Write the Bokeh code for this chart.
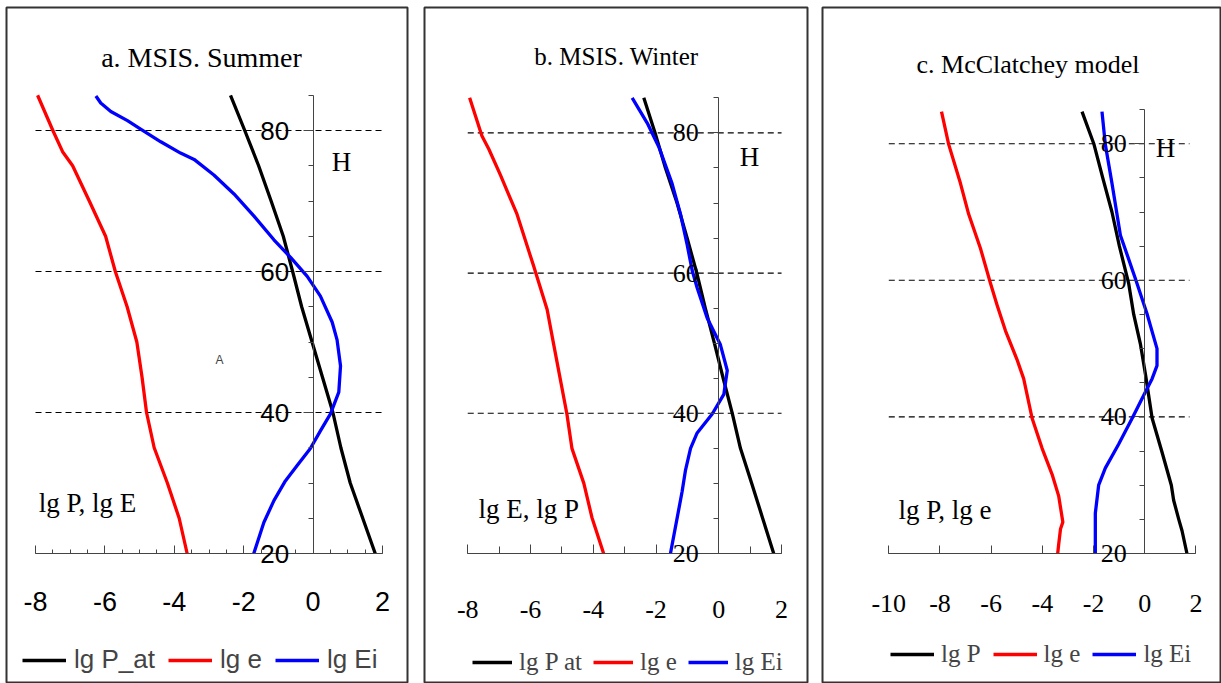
from bokeh.plotting import figure
from bokeh.models import (Range1d, LinearAxis, SingleIntervalTicker, Label, Legend, LegendItem,
                          PrintfTickFormatter)
from bokeh.layouts import row
from bokeh.embed import file_html
from bokeh.resources import INLINE

# ---------------- data ----------------
# panel a: MSIS summer
a_h_p = [20, 25, 30, 35, 40, 45, 50, 55, 60, 65, 70, 75, 80, 85]
a_lgP = [1.79, 1.43, 1.07, 0.8, 0.57, 0.27, -0.03, -0.33, -0.59, -0.86, -1.21, -1.57, -1.97, -2.38]
a_h_e = [20, 25, 30, 35, 40, 45, 50, 55, 60, 65, 70, 75, 77, 80, 85]
a_lge = [-3.63, -3.86, -4.2, -4.58, -4.8, -4.93, -5.08, -5.36, -5.7, -5.98, -6.45, -6.93, -7.22, -7.5, -7.94]
a_h_ei = [20, 24.4, 27.5, 30.3, 32.5, 34.9, 37.4, 39.8, 42.9, 46.6, 50.3, 52.8, 56.5, 59.3, 62.0,
          64.5, 67.9, 71.0, 73.7, 75.9, 76.8, 78.4, 80.2, 81.4, 82.7, 83.9, 84.9]
a_lgEi = [-1.71, -1.42, -1.13, -0.8, -0.46, -0.08, 0.21, 0.5, 0.74, 0.79, 0.69, 0.55, 0.21, -0.17, -0.65,
          -1.13, -1.71, -2.28, -2.86, -3.43, -3.82, -4.39, -4.97, -5.35, -5.83, -6.12, -6.26]

# panel b: MSIS winter
b_h_p = [20, 25, 30, 35, 40, 45, 50, 55, 60, 65, 70, 75, 80, 85]
b_lgP = [1.75, 1.4, 1.05, 0.69, 0.43, 0.14, -0.14, -0.43, -0.7, -1.01, -1.33, -1.7, -2.03, -2.39]
b_h_e = [20, 25.1, 30, 35, 39.9, 49.8, 54.8, 61, 68.4, 74, 77.7, 79.6, 85]
b_lge = [-3.67, -4.04, -4.3, -4.68, -4.84, -5.26, -5.47, -5.9, -6.43, -6.96, -7.33, -7.55, -7.94]
b_h_ei = [20, 28.8, 31.9, 35, 37.2, 39.9, 42.7, 46.1, 49.8, 53.6, 57.9, 60.4, 64.1, 68.4, 72.8, 78, 81.4, 85]
b_lgEi = [-1.54, -1.17, -1.06, -0.9, -0.69, -0.21, 0.16, 0.27, 0.05, -0.37, -0.69, -0.85, -1.01, -1.22, -1.49, -1.91, -2.28, -2.76]

# panel c: McClatchey model
c_h_p = [20, 23.3, 25, 27.8, 30, 34.8, 39.8, 46.2, 50.7, 55, 59.6, 65, 70, 75, 80, 84.7]
c_lgP = [1.65, 1.46, 1.33, 1.13, 1.04, 0.68, 0.29, 0.03, -0.17, -0.43, -0.63, -0.99, -1.28, -1.64, -1.99, -2.45]
c_h_e = [20, 21.4, 23.6, 24.6, 28.4, 31.6, 35.4, 39.8, 45.6, 48.4, 52.6, 56.4, 59.6, 64.7, 69.7, 74.2, 79.9, 84.7]
c_lge = [-3.4, -3.36, -3.29, -3.2, -3.36, -3.62, -4.01, -4.4, -4.73, -4.99, -5.44, -5.77, -6.03, -6.42, -6.88, -7.2, -7.66, -7.94]
c_h_ei = [20, 25.9, 30, 32.5, 36, 39.8, 43.7, 45.6, 47.5, 50, 55.1, 60.2, 66.6, 74.2, 79.9, 84.7]
c_lgEi = [-1.93, -1.93, -1.8, -1.54, -1.02, -0.49, 0.03, 0.29, 0.48, 0.48, 0.09, -0.36, -0.95, -1.28, -1.54, -1.67]

grid_levels = [40, 60, 80]
h_ticks_interval = 20

SANS = "Liberation Sans"
SERIF = "Liberation Serif"
AX = "#444444"


def panel(width, mb_left, mb_right, xr, yr, xbounds, grid_end, x_minor, major_in, minor_in,
          tick_font, xtick_size, ytick_size, x_standoff, y_standoff):
    p = figure(width=width, height=683, output_backend="svg", toolbar_location=None,
               x_axis_type=None, y_axis_type=None,
               x_range=Range1d(*xr), y_range=Range1d(*yr),
               min_border=0, min_border_left=mb_left, min_border_right=mb_right,
               min_border_top=7, min_border_bottom=0)
    p.outline_line_color = "#333333"
    p.outline_line_width = 2
    p.background_fill_color = "white"
    p.border_fill_color = "white"

    xa = LinearAxis(fixed_location=20, bounds=xbounds,
                    ticker=SingleIntervalTicker(interval=2, num_minor_ticks=x_minor),
                    formatter=PrintfTickFormatter(format="%d"))
    xa.major_tick_in = major_in
    xa.major_tick_out = 0
    xa.minor_tick_in = minor_in
    xa.minor_tick_out = 0
    xa.axis_line_color = AX
    xa.major_tick_line_color = AX
    xa.minor_tick_line_color = AX
    xa.major_label_text_font = tick_font
    xa.major_label_text_font_size = xtick_size
    xa.major_label_text_color = "black"
    xa.major_label_standoff = x_standoff
    p.add_layout(xa, "below")

    ya = LinearAxis(fixed_location=0, bounds=(20, 85),
                    ticker=SingleIntervalTicker(interval=h_ticks_interval, num_minor_ticks=4),
                    formatter=PrintfTickFormatter(format="%d"))
    ya.major_tick_in = 0
    ya.major_tick_out = 10
    ya.minor_tick_in = 0
    ya.minor_tick_out = 5
    ya.axis_line_color = AX
    ya.major_tick_line_color = AX
    ya.minor_tick_line_color = AX
    ya.major_label_text_font = tick_font
    ya.major_label_text_font_size = ytick_size
    ya.major_label_text_color = "black"
    ya.major_label_standoff = y_standoff
    p.add_layout(ya, "left")

    p.segment(x0=[xbounds[0]] * len(grid_levels), x1=[grid_end] * len(grid_levels),
              y0=grid_levels, y1=grid_levels, line_color="black", line_width=1.1,
              line_dash="6 4")
    return p


def curves(p, hp, lp, he, le, hei, lei, names, lfont, lsize, loc, gw, standoff, spacing):
    rp = p.line(lp, hp, line_color="black", line_width=3.3, line_join="round")
    re = p.line(le, he, line_color="#ff0000", line_width=3.3, line_join="round")
    rei = p.line(lei, hei, line_color="#0000ff", line_width=3.3, line_join="round")
    leg = Legend(items=[LegendItem(label=names[0], renderers=[rp]),
                        LegendItem(label=names[1], renderers=[re]),
                        LegendItem(label=names[2], renderers=[rei])],
                 orientation="horizontal", location=loc,
                 glyph_width=gw, glyph_height=20, label_standoff=standoff, spacing=spacing,
                 padding=0, margin=0, border_line_color=None, background_fill_alpha=0,
                 label_text_font=lfont, label_text_font_size=lsize,
                 label_text_baseline="middle")
    p.add_layout(leg, "center")


def txt(p, x, y, s, font, size, align="left"):
    p.add_layout(Label(x=x, y=y, text=s, text_font=font, text_font_size=size,
                       text_align=align, text_baseline="alphabetic", text_color="black"))


# ---- panel a ----
pa = panel(415, 6, 8, (-8.836, 2.72), (1.56, 97.45), (-8, 2), 2, 4, 8, 4,
           SANS, "27px", "26px", 38, 14)
curves(pa, a_h_p, a_lgP, a_h_e, a_lge, a_h_ei, a_lgEi, ["lg P_at", "lg e", "lg Ei"],
       SANS, "26px", (16, 8), 44, 8, 13)
txt(pa, -3.216, 90.35, "a. MSIS. Summer", SERIF, "28px", "center")
txt(pa, 0.818, 75.6, "H", SERIF, "27px", "center")
txt(pa, -7.91, 27.1, "lg P, lg E", SERIF, "27px")
pa.add_layout(Label(x=-2.70, y=47.4, text="A", text_font=SANS, text_font_size="12px",
                    text_align="center", text_baseline="middle"))

# ---- panel b ----
pb = panel(400, 9, 8, (-9.378, 2.827), (1.455, 97.89), (-8, 2), 2, 2, 9, 7,
           SERIF, "26px", "26px", 47, 10)
curves(pb, b_h_p, b_lgP, b_h_e, b_lge, b_h_ei, b_lgEi, ["lg P at", "lg e", "lg Ei"],
       SERIF, "25px", (48, 7), 40, 7, 11)
txt(pb, -3.26, 90.9, "b. MSIS. Winter", SERIF, "25px", "center")
txt(pb, 0.978, 76.6, "H", SERIF, "27px", "center")
txt(pb, -7.66, 26.4, "lg E, lg P", SERIF, "27px")

# ---- panel c ----
pc = panel(406, 7, 0, (-12.59, 3.0), (0.97, 99.94), (-10, 2), 1.75, 1, 8, 6,
           SERIF, "26px", "26px", 41, 8)
curves(pc, c_h_p, c_lgP, c_h_e, c_lge, c_h_ei, c_lgEi, ["lg P", "lg e", "lg Ei"],
       SERIF, "25px", (68, 15), 44, 7, 12)
txt(pc, -4.56, 91.6, "c. McClatchey model", SERIF, "26px", "center")
txt(pc, 0.81, 79.4, "H", SERIF, "27px", "center")
txt(pc, -9.62, 26.3, "lg P, lg e", SERIF, "27px")

layout = row(pa, pb, pc)
open("out.html", "w").write(file_html(layout, INLINE))
